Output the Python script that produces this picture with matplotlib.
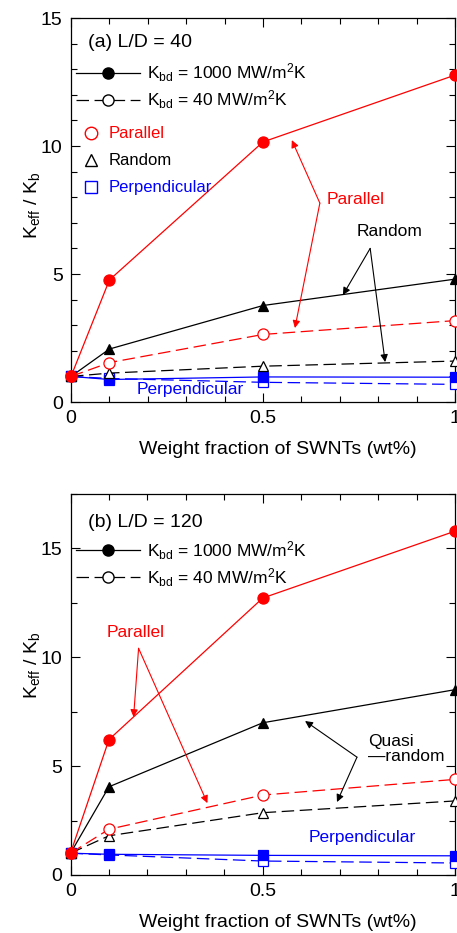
import matplotlib
matplotlib.use('Agg')
import matplotlib.pyplot as plt
from matplotlib.lines import Line2D
from matplotlib.ticker import MultipleLocator

plt.rcParams['font.family'] = ['Liberation Sans', 'DejaVu Sans']
plt.rcParams['mathtext.fontset'] = 'custom'
plt.rcParams['mathtext.rm'] = 'Liberation Sans'
plt.rcParams['mathtext.it'] = 'Liberation Sans:italic'
plt.rcParams['lines.scale_dashes'] = False

# data
wt = [0, 0.1, 0.5, 1.0]

# (a) L/D = 40
a_par_1000 = [1.0, 4.77, 10.16, 12.77]
a_par_40 = [1.0, 1.54, 2.64, 3.18]
a_ran_1000 = [1.0, 2.07, 3.77, 4.80]
a_ran_40 = [1.0, 1.13, 1.40, 1.60]
a_per_1000 = [1.0, 0.88, 0.98, 0.97]
a_per_40 = [1.0, 0.92, 0.77, 0.69]

# (b) L/D = 120
b_par_1000 = [1.0, 6.22, 12.72, 15.79]
b_par_40 = [1.0, 2.10, 3.67, 4.39]
b_ran_1000 = [1.0, 4.05, 6.99, 8.51]
b_ran_40 = [1.0, 1.80, 2.86, 3.40]
b_per_1000 = [1.0, 0.95, 0.90, 0.88]
b_per_40 = [1.0, 0.92, 0.64, 0.55]

xtick_vals = [0, 0.5, 1]
xtick_labels = ['0', '0.5', '1']

FS = 12.5     # legend / annotation text
FS_AX = 14    # tick labels, axis labels, panel titles
DASH = (9, 4)


def series(ax, y, color, marker, filled, dashed, ms):
    kw = dict(color=color, lw=0.9, marker=marker, ms=ms, mec=color, mew=0.9,
              mfc=color if filled else 'white', clip_on=False, zorder=3)
    if dashed:
        kw['dashes'] = DASH
    ax.plot(wt, y, **kw)


def style_axes(ax, ymax, yminor, ylab_y):
    ax.set_xlim(0, 1)
    ax.set_ylim(0, ymax)
    ax.set_xticks(xtick_vals)
    ax.set_xticklabels(xtick_labels)
    ax.xaxis.set_minor_locator(MultipleLocator(0.1))
    ax.yaxis.set_major_locator(MultipleLocator(5))
    ax.yaxis.set_minor_locator(MultipleLocator(yminor))
    ax.tick_params(which='both', direction='in', top=True, right=True,
                   width=0.8, labelsize=FS_AX, pad=6)
    ax.tick_params(which='major', length=6.5)
    ax.tick_params(which='minor', length=4.5)
    for s in ax.spines.values():
        s.set_linewidth(0.9)
    ax.set_xlabel('Weight fraction of SWNTs (wt%)', fontsize=FS_AX, labelpad=10)
    ax.xaxis.label.set_x(0.539)
    ax.set_ylabel(r'$\mathrm{K_{eff}}$ / $\mathrm{K_b}$', fontsize=FS_AX, labelpad=-1)
    ax.yaxis.label.set_y(ylab_y)


def kbd_legend(ax, y0):
    h = [Line2D([], [], color='k', lw=0.9, marker='o', ms=8, mfc='k', mec='k'),
         Line2D([], [], color='k', lw=0.9, marker='o', ms=8, mfc='white', mec='k',
                dashes=DASH)]
    lab = [r'$\mathrm{K_{bd}}$ = 1000 MW/m$^2$K', r'$\mathrm{K_{bd}}$ = 40 MW/m$^2$K']
    leg = ax.legend(h, lab, loc='upper left', bbox_to_anchor=(0.0, y0), frameon=False,
                    fontsize=FS, handlelength=3.7, handletextpad=0.4, labelspacing=0.25,
                    borderaxespad=0, borderpad=0.3)
    return leg


def arrow(ax, tail, head, color):
    ax.annotate('', xy=head, xytext=tail,
                arrowprops=dict(arrowstyle='-|>', color=color, lw=0.8,
                                mutation_scale=11, shrinkA=0, shrinkB=0))


fig = plt.figure(figsize=(4.57, 9.33), dpi=100)
ax1 = fig.add_axes([0.1554, 0.5691, 0.8403, 0.4116])
ax2 = fig.add_axes([0.1543, 0.0622, 0.8414, 0.4084])

# panel (a)
series(ax1, a_per_40, 'blue', 's', False, True, 6.5)
series(ax1, a_per_1000, 'blue', 's', True, False, 6.5)
series(ax1, a_ran_40, 'black', '^', False, True, 7.5)
series(ax1, a_ran_1000, 'black', '^', True, False, 7.5)
series(ax1, a_par_40, 'red', 'o', False, True, 8)
series(ax1, a_par_1000, 'red', 'o', True, False, 8)
style_axes(ax1, 15, 1, 0.513)
ax1.text(0.045, 0.935, '(a) L/D = 40', transform=ax1.transAxes, fontsize=FS_AX,
         va='center', ha='left')
leg1 = kbd_legend(ax1, 0.9)
ax1.add_artist(leg1)
mh = [Line2D([], [], ls='none', marker='o', ms=9, mfc='white', mec='red'),
      Line2D([], [], ls='none', marker='^', ms=9, mfc='white', mec='black'),
      Line2D([], [], ls='none', marker='s', ms=8.5, mfc='white', mec='blue')]
ax1.legend(mh, ['Parallel', 'Random', 'Perpendicular'], loc='upper left',
           bbox_to_anchor=(0.008, 0.735), frameon=False, fontsize=FS - 0.5,
           handlelength=1.2, handletextpad=0.5, labelspacing=0.72, borderaxespad=0,
           labelcolor=['red', 'black', 'blue'])

ax1.text(0.665, 7.9, 'Parallel', color='red', fontsize=FS, va='center', ha='left')
arrow(ax1, (0.648, 7.77), (0.575, 10.23), 'red')
arrow(ax1, (0.648, 7.77), (0.583, 2.89), 'red')
ax1.text(0.83, 6.68, 'Random', color='black', fontsize=FS, va='center', ha='center')
arrow(ax1, (0.779, 6.0), (0.708, 4.18), 'black')
arrow(ax1, (0.779, 6.0), (0.818, 1.56), 'black')
ax1.text(0.31, 0.47, 'Perpendicular', color='blue', fontsize=FS, va='center', ha='center')

# panel (b)
series(ax2, b_per_40, 'blue', 's', False, True, 6.5)
series(ax2, b_per_1000, 'blue', 's', True, False, 6.5)
series(ax2, b_ran_40, 'black', '^', False, True, 7.5)
series(ax2, b_ran_1000, 'black', '^', True, False, 7.5)
series(ax2, b_par_40, 'red', 'o', False, True, 8)
series(ax2, b_par_1000, 'red', 'o', True, False, 8)
style_axes(ax2, 17.5, 2.5, 0.55)
ax2.text(0.045, 0.925, '(b) L/D = 120', transform=ax2.transAxes, fontsize=FS_AX,
         va='center', ha='left')
kbd_legend(ax2, 0.895)

ax2.text(0.169, 11.15, 'Parallel', color='red', fontsize=FS, va='center', ha='center')
arrow(ax2, (0.177, 10.41), (0.164, 7.25), 'red')
arrow(ax2, (0.177, 10.41), (0.356, 3.3), 'red')
ax2.text(0.774, 5.78, 'Quasi\n\u2014random', color='black', fontsize=FS,
         va='center', ha='left', linespacing=1.0)
arrow(ax2, (0.745, 5.41), (0.61, 7.07), 'black')
arrow(ax2, (0.745, 5.41), (0.693, 3.35), 'black')
ax2.text(0.758, 1.7, 'Perpendicular', color='blue', fontsize=FS, va='center', ha='center')

plt.savefig('out.png', dpi=100)
plt.close()
